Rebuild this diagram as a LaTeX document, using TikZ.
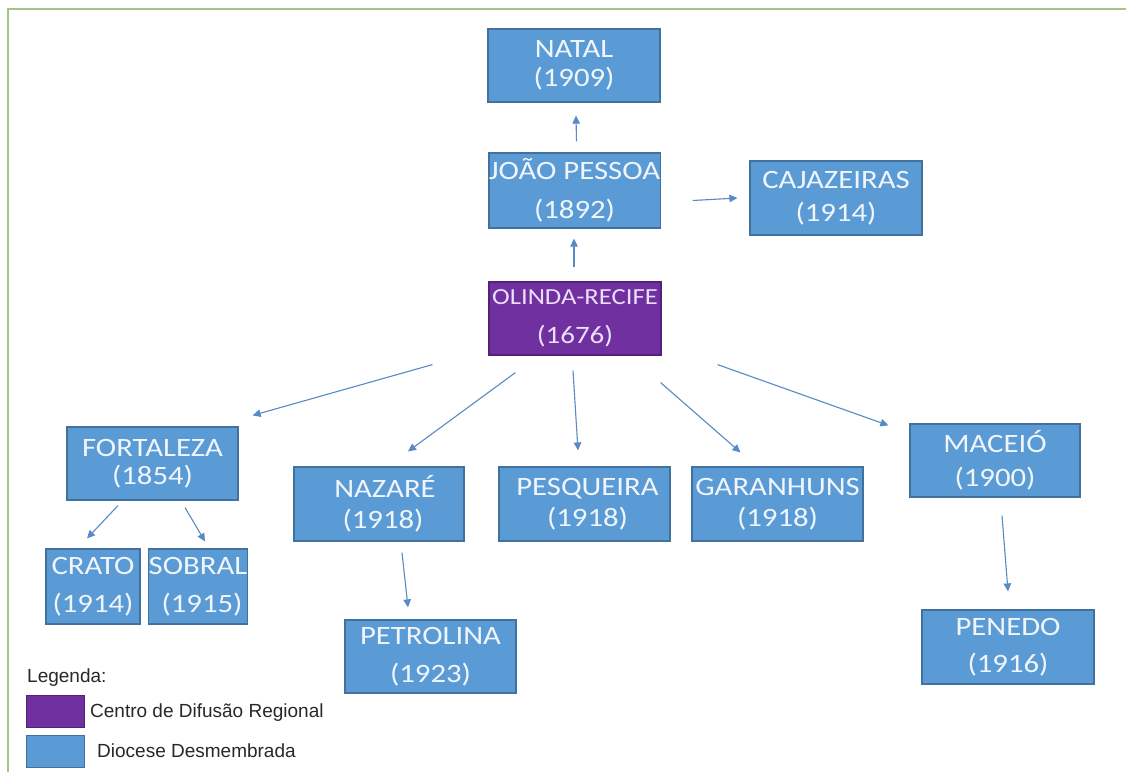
\documentclass[tikz,border=0pt]{standalone}
\usepackage{fontspec}
\setmainfont{Liberation Sans}
\newfontfamily\boxfont[FakeStretch=1.16]{Carlito}
\usetikzlibrary{arrows.meta}
\definecolor{boxblue}{RGB}{91,155,213}
\definecolor{boxedge}{RGB}{65,113,156}
\definecolor{purp}{RGB}{112,48,160}
\definecolor{purpedge}{RGB}{84,32,124}
\definecolor{arrowblue}{RGB}{88,138,196}
\definecolor{framegreen}{RGB}{160,198,140}
\definecolor{boxtext}{RGB}{240,245,252}
\definecolor{legtext}{RGB}{40,40,40}
\begin{document}
\begin{tikzpicture}[x=1pt,y=-1pt,
  box/.style={draw=boxedge, line width=1.2pt, fill=boxblue, text=boxtext, align=center,
    inner sep=0pt, font=\boxfont\fontsize{26.5}{28.5}\selectfont},
  sized/.style 2 args={minimum width=#1, minimum height=#2},
  centre/.style={box, fill=purp, draw=purpedge, text={rgb,255:red,235;green,222;blue,248}},
  arr/.style={draw=arrowblue, line width=1.1pt, -{Triangle[length=8pt,width=7.5pt]}},
  legsq/.style={draw=boxedge, line width=0.8pt, minimum width=58pt, minimum height=32pt, inner sep=0pt},
  legtxt/.style={text=legtext, font=\fontsize{19}{22}\selectfont, inner sep=0pt}
]
\useasboundingbox (0,0) rectangle (1126,772);
\fill[white] (0,0) rectangle (1126,772);
\draw[framegreen, line width=2pt] (8,772) -- (8,9) -- (1126,9);

% boxes
\node[box, sized={172pt}{73pt}] (natal) at (574,65.5) {NATAL\\(1909)};
\node[box, sized={171pt}{75pt}] (joao) at (574.5,190.5) {JOÃO PESSOA\\[10pt](1892)};
\node[box, sized={172pt}{74pt}] (caj) at (836,198) {CAJAZEIRAS\\[4pt](1914)};
\node[centre, sized={172pt}{73pt}] (olinda) at (575,318.5)
  {{\fontsize{23}{25}\selectfont OLINDA-RECIFE}\\[11pt]{\fontsize{25}{27}\selectfont (1676)}};
\node[box, sized={171pt}{73pt}] (fort) at (152.5,463.5) {FORTALEZA\\(1854)};
\node[box, sized={170pt}{74pt}] (nazare) at (379,504) {\hspace*{12pt}NAZARÉ\\[3pt]\hspace*{8pt}(1918)};
\node[box, sized={171pt}{74pt}] (pesq) at (584.5,504) {\hspace*{6pt}PESQUEIRA\\[3pt]\hspace*{6pt}(1918)};
\node[box, sized={171pt}{74pt}] (gar) at (777.5,504) {GARANHUNS\\[3pt](1918)};
\node[box, sized={170pt}{73pt}] (maceio) at (995,460.5) {MACEIÓ\\[6pt](1900)};
\node[box, sized={94pt}{75pt}] (crato) at (93,586.5) {CRATO\\[9pt](1914)};
\node[box, sized={94pt}{75pt}] (sobral) at (198,586.5) {SOBRAL\\[9pt]\hspace*{8pt}(1915)};
\node[box, sized={171pt}{73pt}] (petrolina) at (430.5,656.5) {PETROLINA\\[9pt](1923)};
\node[box, sized={172pt}{74pt}] (penedo) at (1008,647) {PENEDO\\[8pt](1916)};

% connectors
\draw[arr] ([shift={(-1,-14)}]olinda.north) -- ([shift={(-0.5,10)}]joao.south);
\draw[arr] ([shift={(2,-11)}]joao.north) -- ([shift={(2,13)}]natal.south);
\draw[arr] ([shift={(32,10)}]joao.east) -- ([shift={(-12,0)}]caj.west);
\draw[arr] ([shift={(-56,9)}]olinda.south west) -- ([shift={(14,-11)}]fort.north east);
\draw[arr] ([shift={(27,17)}]olinda.south west) -- ([shift={(29,-15)}]nazare.north);
\draw[arr] ([shift={(-2,15)}]olinda.south) -- ([shift={(-6.5,-16)}]pesq.north);
\draw[arr] ([shift={(-1,27)}]olinda.south east) -- ([shift={(-37,-14)}]gar.north);
\draw[arr] ([shift={(56,9)}]olinda.south east) -- ([shift={(-21,2)}]maceio.north west);
\draw[arr] ([shift={(-34.5,5)}]fort.south) -- ([shift={(-6,-10)}]crato.north);
\draw[arr] ([shift={(32.5,7)}]fort.south) -- ([shift={(7,-7)}]sobral.north);
\draw[arr] ([shift={(23,11)}]nazare.south) -- ([shift={(-22.5,-12)}]petrolina.north);
\draw[arr] ([shift={(7,18)}]maceio.south) -- ([shift={(0,-18)}]penedo.north);

% legend
\node[legtxt, anchor=base west] (legtitle) at (27,682) {Legenda:};
\node[legsq, fill=purp, draw=purpedge] (legp) at (55.5,711) {};
\node[legsq, fill=boxblue] (legb) at (55.5,751.5) {};
\node[legtxt, anchor=base west] (legptxt) at (90,717) {Centro de Difusão Regional};
\node[legtxt, anchor=base west] (legbtxt) at (97,757) {Diocese Desmembrada};
\end{tikzpicture}
\end{document}
